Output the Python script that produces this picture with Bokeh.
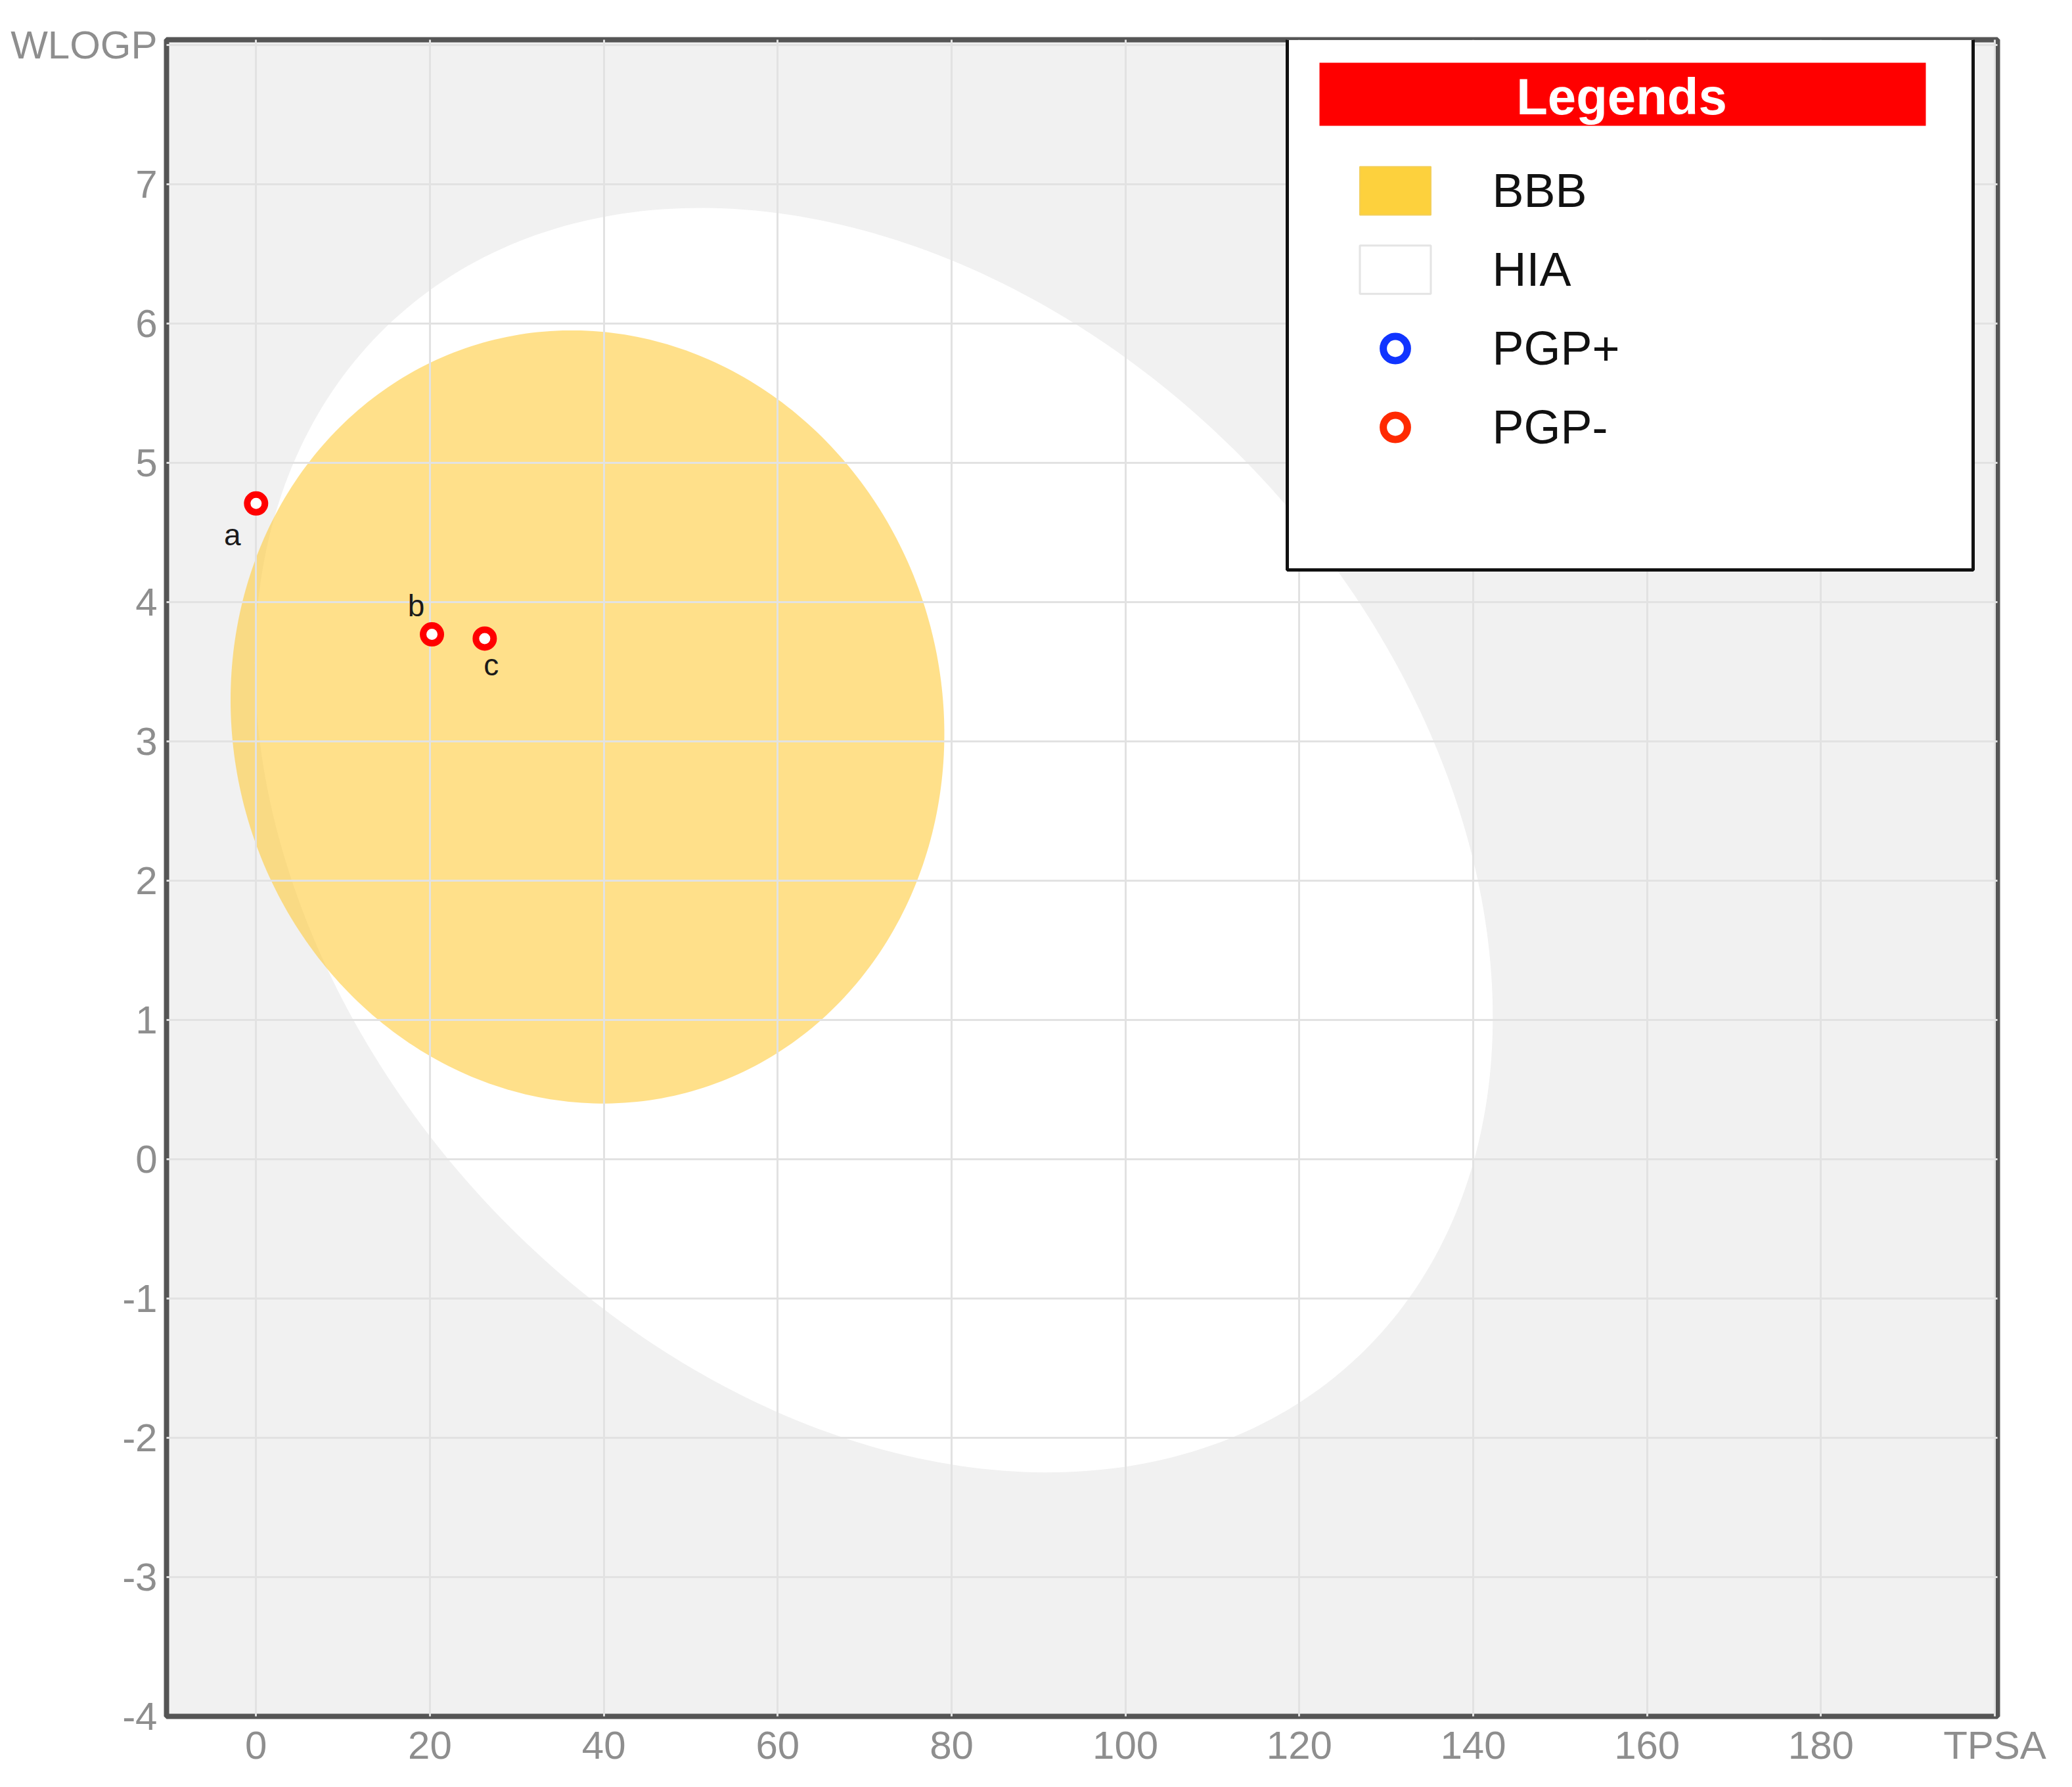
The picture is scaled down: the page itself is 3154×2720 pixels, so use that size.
import numpy as np
from bokeh.plotting import figure
from bokeh.models import (Range1d, FixedTicker, ColumnDataSource, BoxAnnotation,
                          Label, Legend, LegendItem)
from bokeh.core.properties import value
from bokeh.embed import file_html
from bokeh.resources import INLINE

# ---------------- data ----------------
compounds = ["a", "b", "c"]
tpsa = [0.0, 20.23, 26.30]
wlogp = [4.71, 3.77, 3.74]
pgp = ["PGP-", "PGP-", "PGP-"]

x_ticks = [0, 20, 40, 60, 80, 100, 120, 140, 160, 180, 200]
y_ticks = [-4, -3, -2, -1, 0, 1, 2, 3, 4, 5, 6, 7, 8]
x_axis_title = {200: "TPSA"}
y_axis_title = {8: "WLOGP"}

# BOILED-Egg regions: centre, half extents (TPSA, WLOGP), correlation
region_names = ["HIA", "BBB"]
region_cx = [71.051, 38.117]
region_cy = [2.292, 3.177]
region_half_x = [71.2, 41.05]
region_half_y = [4.54, 2.776]
region_rho = [-0.280, -0.044]

legend_labels = ["BBB", "HIA", "PGP+", "PGP-"]

# ---------------- styles ----------------
FONT = "Liberation Sans"
W, H = 3138, 2704
ML, MR, MT, MB = 253, 98, 60, 92
FW, FH = W - ML - MR, H - MT - MB
X0, X1, Y0, Y1 = -10.3, 200.3, -4, 8.04

def px_x(px):  # picture pixel -> data x
    return X0 + (px - ML) * (X1 - X0) / FW

def px_y(py):
    return Y1 - (py - MT) * (Y1 - Y0) / FH

p = figure(width=W, height=H, x_range=Range1d(X0, X1), y_range=Range1d(Y0, Y1),
           output_backend="svg", toolbar_location=None,
           min_border_left=ML, min_border_right=MR, min_border_top=MT, min_border_bottom=MB)
p.background_fill_color = "#f1f1f1"
p.border_fill_color = "white"
p.outline_line_color = "#555555"
p.outline_line_width = 8

for ax in (p.xaxis[0], p.yaxis[0]):
    ax.axis_line_color = None
    ax.major_tick_line_color = None
    ax.minor_tick_line_color = None
    ax.major_tick_out = 0
    ax.major_tick_in = 0
    ax.major_label_text_font = FONT
    ax.major_label_text_font_size = "60px"
    ax.major_label_text_color = "#8e8e8e"
p.xaxis[0].ticker = FixedTicker(ticks=x_ticks)
p.yaxis[0].ticker = FixedTicker(ticks=y_ticks)
x_over = {v: str(v) for v in x_ticks}
x_over.update(x_axis_title)
y_over = {v: str(v) for v in y_ticks}
y_over.update(y_axis_title)
p.xaxis[0].major_label_overrides = x_over
p.yaxis[0].major_label_overrides = y_over
p.xaxis[0].major_label_standoff = 10
p.yaxis[0].major_label_standoff = 14

for g in (p.xgrid[0], p.ygrid[0]):
    g.grid_line_color = "#e2e2e2"
    g.grid_line_width = 3
    g.level = "guide"

# ---------------- regions ----------------
t = np.linspace(0, 2 * np.pi, 361)
region_xs, region_ys = [], []
for cx, cy, hx, hy, rho in zip(region_cx, region_cy, region_half_x, region_half_y, region_rho):
    region_xs.append(cx + hx * np.cos(t))
    region_ys.append(cy + hy * (rho * np.cos(t) + np.sqrt(1 - rho ** 2) * np.sin(t)))

region_style = {
    "HIA": dict(fill_color="#ffffff", fill_alpha=1.0),
    "BBB": dict(fill_color="#ffc832", fill_alpha=0.57),
}
for name, xs, ys in zip(region_names, region_xs, region_ys):
    p.patch(xs, ys, line_color=None, **region_style[name])

# ---------------- compounds ----------------
pgp_color = {"PGP+": "#1034ff", "PGP-": "#ff0000"}
label_dx = [-36, -24, 10]
label_dy = [48, -44, 40]
src = ColumnDataSource(dict(x=tpsa, y=wlogp, name=compounds,
                            color=[pgp_color[s] for s in pgp],
                            dx=label_dx, dy=label_dy))
p.scatter("x", "y", source=src, marker="circle", size=27, fill_color="white",
          line_color="color", line_width=10, level="annotation")
p.text("x", "y", text="name", source=src, x_offset="dx", y_offset="dy",
       text_align="center", text_baseline="middle", text_font=value(FONT),
       text_font_size="46px", text_color="#1a1a1a", level="annotation")

# ---------------- legend ----------------
box = BoxAnnotation(left=px_x(1959), right=px_x(3003), top=px_y(58), bottom=px_y(867),
                    fill_color="white", fill_alpha=1.0,
                    line_color="#111111", line_alpha=1.0, line_width=5)
header = BoxAnnotation(left=px_x(2008), right=px_x(2931), top=px_y(95), bottom=px_y(191),
                       fill_color="#ff0000", fill_alpha=1.0, line_color=None)
p.add_layout(box)
p.add_layout(header)
p.add_layout(Label(x=px_x(2468), y=px_y(146), text="Legends", text_align="center",
                   text_baseline="middle", text_font=FONT, text_font_size="78px",
                   text_font_style="bold", text_color="white"))

proxy_bbb = p.patch(region_xs[1], region_ys[1], fill_color="#fdd13d", fill_alpha=1.0,
                    line_color="#f3cf5a", line_width=2, visible=False)
proxy_hia = p.patch(region_xs[0], region_ys[0], fill_color="#ffffff", fill_alpha=1.0,
                    line_color="#e4e4e4", line_width=3, visible=False)
proxy_pos = p.scatter(tpsa, wlogp, marker="circle", size=30, fill_color="white",
                      line_color="#1034ff", line_width=11, visible=False)
proxy_neg = p.scatter(tpsa, wlogp, marker="circle", size=30, fill_color="white",
                      line_color="#ff2a00", line_width=11, visible=False)
proxies = [proxy_bbb, proxy_hia, proxy_pos, proxy_neg]

legend = Legend(items=[LegendItem(label=lab, renderers=[r]) for lab, r in zip(legend_labels, proxies)],
                location=(1802.5, 1916.5), orientation="vertical",
                glyph_width=135, glyph_height=92, label_height=92, label_standoff=81,
                spacing=28, padding=10, margin=0,
                border_line_color=None, background_fill_alpha=0,
                label_text_font=FONT, label_text_font_size="72px", label_text_color="#111111")
p.add_layout(legend)

open("out.html", "w").write(file_html(p, INLINE))
